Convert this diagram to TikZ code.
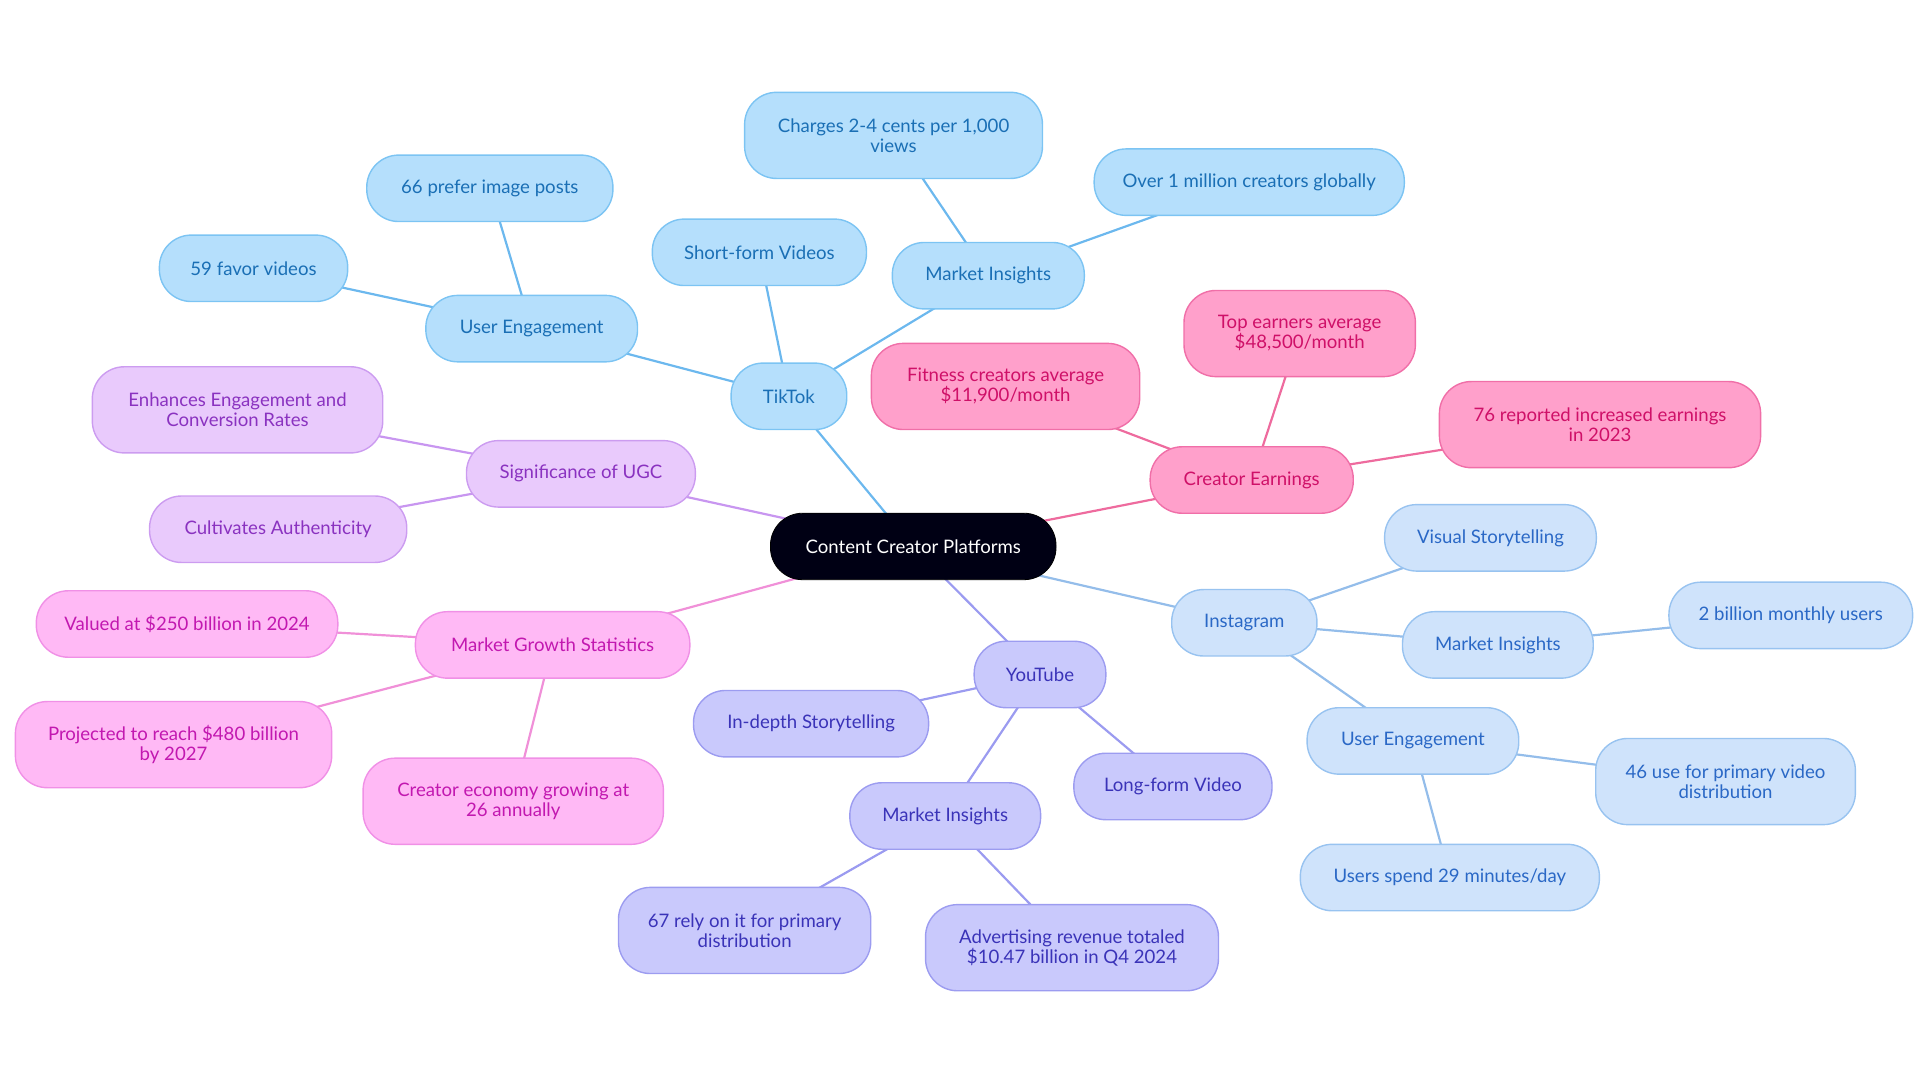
\documentclass[tikz,border=0pt]{standalone}
\usepackage{fontspec}
\setmainfont{Lato}
\usetikzlibrary{backgrounds}
\definecolor{tkF}{HTML}{B5DFFC}\definecolor{tkD}{HTML}{7CC4F3}\definecolor{tkT}{HTML}{1A6FB5}\definecolor{tkL}{HTML}{6CB8EE}
\definecolor{igF}{HTML}{CFE3FB}\definecolor{igD}{HTML}{98C3F0}\definecolor{igT}{HTML}{2A68C6}\definecolor{igL}{HTML}{94BDEA}
\definecolor{ceF}{HTML}{FFA0CB}\definecolor{ceD}{HTML}{F06FA8}\definecolor{ceT}{HTML}{CF1068}\definecolor{ceL}{HTML}{EE6B9E}
\definecolor{ytF}{HTML}{C9C9FC}\definecolor{ytD}{HTML}{9C9CF0}\definecolor{ytT}{HTML}{3A33B8}\definecolor{ytL}{HTML}{9B9BF0}
\definecolor{ugF}{HTML}{E9CAFC}\definecolor{ugD}{HTML}{CC9CF0}\definecolor{ugT}{HTML}{8A32C0}\definecolor{ugL}{HTML}{C896F0}
\definecolor{mgF}{HTML}{FFB9F5}\definecolor{mgD}{HTML}{F090E6}\definecolor{mgT}{HTML}{C218B0}\definecolor{mgL}{HTML}{F090D8}
\begin{document}
\begin{tikzpicture}[x=0.6154pt,y=-0.6154pt,
  box/.style n args={3}{draw=#1D,fill=#1F,text=#1T,line width=0.7pt,rounded corners=16pt,outer sep=0pt,
     minimum width={#2*0.6154pt},minimum height={#3*0.6154pt},align=center,font=\fontsize{9.3pt}{10pt}\selectfont,inner sep=2pt},
  e/.style={line width=1.1pt,draw=#1L}]
\useasboundingbox (0,0) rectangle (1560,880);
\node[draw=black,fill=black!92!blue,text=white,rounded corners=16pt,outer sep=0pt,minimum width={232*0.6154pt},minimum height={54*0.6154pt},font=\fontsize{9.3pt}{10pt}\selectfont] (root) at (742,444) {Content Creator Platforms};
% TikTok
\node[box={tk}{94}{54}] (tt) at (641,322) {TikTok};
\node[box={tk}{172}{54}] (tue) at (432,267) {User Engagement};
\node[box={tk}{200}{54}] (t66) at (398,153) {66 prefer image posts};
\node[box={tk}{153}{54}] (t59) at (206,218) {59 favor videos};
\node[box={tk}{174}{54}] (tsf) at (617,205) {Short-form Videos};
\node[box={tk}{156}{54}] (tmi) at (803,224) {Market Insights};
\node[box={tk}{242}{70}] (tch) at (726,110) {Charges 2-4 cents per 1,000\\views};
\node[box={tk}{252}{54}] (tov) at (1015,148) {Over 1 million creators globally};
% Creator Earnings
\node[box={ce}{165}{54}] (ce) at (1017,390) {Creator Earnings};
\node[box={ce}{218}{70}] (cfi) at (817,314) {Fitness creators average\\\$11,900/month};
\node[box={ce}{188}{70}] (cto) at (1056,271) {Top earners average\\\$48,500/month};
\node[box={ce}{261}{70}] (c76) at (1300,345) {76 reported increased earnings\\in 2023};
% Instagram
\node[box={ig}{118}{54}] (ig) at (1011,506) {Instagram};
\node[box={ig}{172}{54}] (ivs) at (1211,437) {Visual Storytelling};
\node[box={ig}{155}{54}] (imi) at (1217,524) {Market Insights};
\node[box={ig}{198}{54}] (i2b) at (1455,500) {2 billion monthly users};
\node[box={ig}{172}{54}] (iue) at (1148,602) {User Engagement};
\node[box={ig}{211}{70}] (i46) at (1402,635) {46 use for primary video\\distribution};
\node[box={ig}{243}{54}] (ius) at (1178,713) {Users spend 29 minutes/day};
% YouTube
\node[box={yt}{107}{54}] (yt) at (845,548) {YouTube};
\node[box={yt}{191}{54}] (yin) at (659,588) {In-depth Storytelling};
\node[box={yt}{161}{54}] (ylf) at (953,639) {Long-form Video};
\node[box={yt}{155}{54}] (ymi) at (768,663) {Market Insights};
\node[box={yt}{205}{70}] (y67) at (605,756) {67 rely on it for primary\\distribution};
\node[box={yt}{238}{70}] (yad) at (871,770) {Advertising revenue totaled\\\$10.47 billion in Q4 2024};
% UGC
\node[box={ug}{186}{54}] (ug) at (472,385) {Significance of UGC};
\node[box={ug}{236}{70}] (uen) at (193,333) {Enhances Engagement and\\Conversion Rates};
\node[box={ug}{209}{54}] (ucu) at (226,430) {Cultivates Authenticity};
% Market growth
\node[box={mg}{223}{54}] (mg) at (449,524) {Market Growth Statistics};
\node[box={mg}{245}{54}] (mva) at (152,507) {Valued at \$250 billion in 2024};
\node[box={mg}{257}{70}] (mpr) at (141,605) {Projected to reach \$480 billion\\by 2027};
\node[box={mg}{244}{70}] (mcr) at (417,651) {Creator economy growing at\\26 annually};
\begin{scope}[on background layer]
\draw[e=tk] (root.center)--(tt.center); \draw[e=tk] (tt.center)--(tue.center); \draw[e=tk] (tue.center)--(t66.center); \draw[e=tk] (tue.center)--(t59.center);
\draw[e=tk] (tt.center)--(tsf.center); \draw[e=tk] (tt.center)--(tmi.center); \draw[e=tk] (tmi.center)--(tch.center); \draw[e=tk] (tmi.center)--(tov.center);
\draw[e=ce] (root.center)--(ce.center); \draw[e=ce] (ce.center)--(cfi.center); \draw[e=ce] (ce.center)--(cto.center); \draw[e=ce] (ce.center)--(c76.center);
\draw[e=ig] (root.center)--(ig.center); \draw[e=ig] (ig.center)--(ivs.center); \draw[e=ig] (ig.center)--(imi.center); \draw[e=ig] (imi.center)--(i2b.center);
\draw[e=ig] (ig.center)--(iue.center); \draw[e=ig] (iue.center)--(i46.center); \draw[e=ig] (iue.center)--(ius.center);
\draw[e=yt] (root.center)--(yt.center); \draw[e=yt] (yt.center)--(yin.center); \draw[e=yt] (yt.center)--(ylf.center); \draw[e=yt] (yt.center)--(ymi.center);
\draw[e=yt] (ymi.center)--(y67.center); \draw[e=yt] (ymi.center)--(yad.center);
\draw[e=ug] (root.center)--(ug.center); \draw[e=ug] (ug.center)--(uen.center); \draw[e=ug] (ug.center)--(ucu.center);
\draw[e=mg] (root.center)--(mg.center); \draw[e=mg] (mg.center)--(mva.center); \draw[e=mg] (mg.center)--(mpr.center); \draw[e=mg] (mg.center)--(mcr.center);
\end{scope}
\end{tikzpicture}
\end{document}
